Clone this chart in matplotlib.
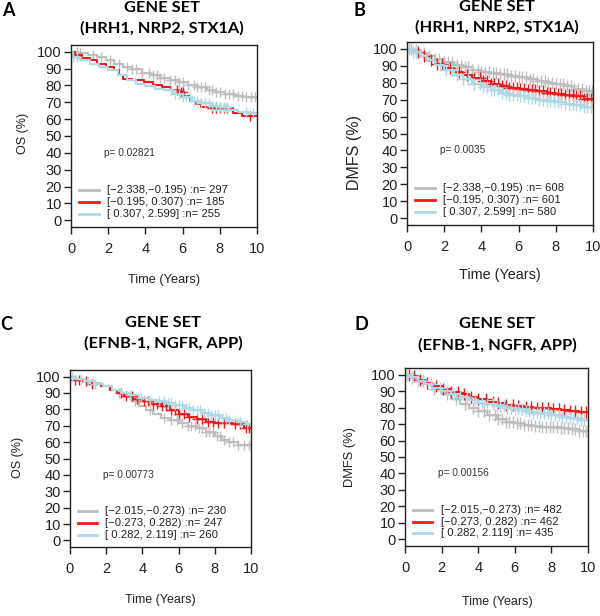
import numpy as np
import matplotlib
matplotlib.use("Agg")
import matplotlib.pyplot as plt

plt.rcParams['font.family'] = ['Liberation Sans', 'DejaVu Sans']

# colours of the three expression groups (low, mid, high)
grp_colors = ['#bebebe', '#ec1c1c', '#add8e6']

# ---------------- panel A : OS, HRH1/NRP2/STX1A ----------------
A_grey_t = [0, 0.4, 0.9, 1.4, 1.9, 2.3, 2.8, 3.3, 3.8, 4.3, 4.8, 5.3, 5.8, 6.3, 6.8, 7.3, 7.8, 8.3, 8.8, 9.3]
A_grey_s = [100, 99, 98, 97, 95, 93, 91, 89.5, 87.5, 86, 84.5, 83, 82, 80.5, 79, 77.5, 76, 75, 74, 73]
A_red_t = [0, 0.2, 0.6, 1.0, 1.4, 1.9, 2.3, 2.6, 2.8, 3.3, 3.9, 4.4, 4.9, 5.4, 5.8, 6.1, 6.4, 6.7, 7.0, 7.4, 8.7, 9.2]
A_red_s = [100, 98, 96.5, 95, 93, 91, 89, 86, 84, 83, 82, 80.5, 79, 77.5, 76, 74, 71, 69, 67, 66.5, 63.5, 62]
A_blue_t = [0, 0.1, 0.5, 1.0, 1.5, 2.0, 2.5, 3.0, 3.5, 4.0, 4.5, 5.0, 5.5, 6.0, 6.5, 7.0, 7.5, 8.0, 8.5, 9.0, 9.5]
A_blue_s = [100, 97, 95, 93, 91, 89, 86, 83.5, 81, 79.5, 78, 77, 75, 73, 71, 69.5, 68, 67, 65.5, 64.5, 63.5]
A_grey_c = [0.3, 0.5, 1.2, 1.6, 2.1, 2.6, 3.0, 3.3, 3.5, 3.8, 4.2, 4.4, 4.6, 4.8, 5.0, 5.3, 5.6, 5.8,
            6.0, 6.3, 6.6, 6.8, 7.0, 7.2, 7.4, 7.6, 7.8, 8.0, 8.3, 8.5, 8.7, 9.0, 9.2, 9.4, 9.7, 9.9]
A_red_c = [5.7, 5.9, 6.0, 7.6, 7.8, 8.0, 8.2, 8.4, 9.6]
A_blue_c = [0.1, 0.3, 5.4, 5.6, 5.8, 6.0, 6.2, 6.4, 6.6, 6.8, 7.0, 7.2, 7.4, 7.6, 7.8, 8.0, 8.2, 8.4, 9.4, 9.8]
A_legend = ['[\u22122.338,\u22120.195) :n= 297', '[\u22120.195, 0.307) :n= 185', '[ 0.307, 2.599] :n= 255']
A_p = 'p= 0.02821'

# ---------------- panel B : DMFS, HRH1/NRP2/STX1A ----------------
B_t = [0, 0.3, 0.7, 1.1, 1.5, 2.0, 2.5, 3.0, 3.5, 4.0, 4.5, 5.0, 5.5, 6.0, 6.5, 7.0, 7.5, 8.0, 8.5, 9.0, 9.5]
B_grey_s = [100, 99, 97.5, 95.5, 94, 92, 90.5, 89, 87.5, 86.5, 85.5, 85, 84, 83.5, 82, 81, 80, 79.5, 78, 76.5, 75]
B_red_s = [100, 98, 96, 93.5, 91, 88.5, 86.5, 84.5, 82.5, 81, 79.5, 78, 77, 76.5, 75.5, 75, 74, 73.5, 72.5, 72, 70.5]
B_blue_s = [100, 98, 96, 93.5, 90.5, 87.5, 84.5, 82, 79.5, 77.5, 75.5, 74, 72.5, 72, 71, 70, 69, 68.5, 67.5, 67, 65.5]
B_grey_c = [0.2, 0.5, 0.9, 1.2, 1.5, 1.7, 2.0, 2.2, 2.4, 2.7, 2.9, 3.1, 3.3, 3.5, 3.8, 4.0, 4.2, 4.4, 4.6, 4.8,
            5.0, 5.2, 5.4, 5.6, 5.8, 6.0, 6.2, 6.4, 6.6, 6.8, 7.0, 7.2, 7.4, 7.6, 7.8, 8.0, 8.2, 8.4,
            8.6, 8.8, 9.0, 9.2, 9.4, 9.6, 9.8, 9.95]
B_red_c = [0.6, 0.9, 1.3, 1.6, 1.9, 2.3, 2.8, 3.2, 3.6, 3.9, 4.1, 4.3, 4.5, 4.7, 4.9, 5.1, 5.3, 5.5, 5.7,
           5.9, 6.1, 6.3, 6.5, 6.7, 6.9, 7.1, 7.3, 7.5, 7.7, 7.9, 8.1, 8.3, 8.5, 8.7, 8.9, 9.1, 9.3,
           9.5, 9.7, 9.9]
B_blue_c = [0.1, 0.3, 0.5, 1.8, 2.1, 2.4, 2.7, 3.0, 3.3, 3.6, 3.9, 4.1, 4.3, 4.5, 4.7, 4.9, 5.1, 5.3, 5.5,
            5.7, 5.9, 6.1, 6.3, 6.5, 6.7, 6.9, 7.1, 7.3, 7.5, 7.7, 7.9, 8.1, 8.3, 8.5, 8.7, 8.9, 9.1,
            9.3, 9.5, 9.7, 9.9]
B_legend = ['[\u22122.338,\u22120.195) :n= 608', '[\u22120.195, 0.307) :n= 601', '[ 0.307, 2.599] :n= 580']
B_p = 'p= 0.0035'

# ---------------- panel C : OS, EFNB-1/NGFR/APP ----------------
C_grey_t = [0, 0.3, 0.7, 1.2, 1.7, 2.2, 2.6, 3.0, 3.4, 3.8, 4.2, 4.6, 5.0, 5.5, 6.0, 6.5, 7.0, 7.5, 8.0, 8.4, 8.8, 9.3]
C_grey_s = [100, 98.5, 97, 96, 94, 92, 90, 87.5, 85, 82, 79.5, 77, 75, 73.5, 71.5, 70, 68.5, 66, 63.5, 61.5, 60, 58.5]
C_red_t = [0, 0.3, 0.7, 1.2, 1.7, 2.2, 2.6, 3.0, 3.5, 4.0, 4.5, 5.0, 5.5, 6.0, 6.5, 7.0, 7.5, 8.0, 9.0, 9.6]
C_red_s = [100, 98, 97, 95.5, 94, 92, 90, 88, 86.5, 85, 83.5, 82, 79.5, 77, 75.5, 74, 72.5, 71.5, 71, 68.5]
C_blue_t = [0, 0.3, 0.8, 1.3, 1.8, 2.3, 2.8, 3.3, 3.8, 4.3, 4.8, 5.3, 5.8, 6.3, 6.8, 7.3, 7.8, 8.3, 8.8, 9.3, 9.8]
C_blue_s = [100, 98.5, 97, 95.5, 94, 92, 90, 88.5, 87, 86, 85, 84, 82.5, 81, 79.5, 78, 76.5, 75, 73.5, 72, 71]
C_grey_c = [2.7, 3.6, 4.4, 5.2, 5.6, 5.9, 6.2, 6.5, 6.7, 6.9, 7.1, 7.3, 7.5, 7.7, 7.9, 8.1, 8.3, 8.5, 8.8, 9.0, 9.3, 9.6, 9.9]
C_red_c = [0.3, 0.5, 0.9, 1.2, 2.8, 3.1, 3.4, 3.7, 4.1, 4.3, 4.6, 4.8, 5.1, 5.3, 5.6, 5.8, 6.0, 6.3, 6.6,
           7.0, 7.3, 7.6, 7.9, 8.2, 8.5, 9.1, 9.4, 9.7, 9.9]
C_blue_c = [0.1, 0.6, 1.0, 1.4, 3.3, 3.9, 4.4, 4.9, 5.2, 5.4, 5.6, 5.8, 6.0, 6.2, 6.4, 6.6, 6.8, 7.0, 7.2,
            7.4, 7.6, 7.8, 8.0, 8.2, 8.4, 8.6, 8.8, 9.4, 9.8]
C_legend = ['[\u22122.015,\u22120.273) :n= 230', '[\u22120.273, 0.282) :n= 247', '[ 0.282, 2.119] :n= 260']
C_p = 'p= 0.00773'

# ---------------- panel D : DMFS, EFNB-1/NGFR/APP ----------------
D_t = [0, 0.3, 0.7, 1.1, 1.5, 2.0, 2.5, 3.0, 3.5, 4.0, 4.5, 5.0, 5.5, 6.0, 6.5, 7.0, 7.5, 8.0, 8.5, 9.0, 9.5]
D_grey_s = [100, 98, 96, 94, 91.5, 88, 85, 82, 80, 78, 75.5, 73, 71.5, 70.5, 69.5, 69, 68.5, 68, 67.5, 67, 66]
D_red_s = [100, 99, 97, 95, 93, 91, 89.5, 88, 86.5, 85, 83.5, 82.5, 81.5, 81, 80.5, 80, 79.5, 79, 78.5, 78, 77.5]
D_blue_s = [100, 98.5, 96, 94, 92, 90, 88, 86.5, 84.5, 83, 82, 81, 80, 79, 78, 77, 76.5, 75.5, 74.5, 73.5, 72.5]
D_grey_c = [0.4, 1.0, 1.6, 2.3, 2.8, 3.3, 3.7, 4.0, 4.3, 4.6, 4.9, 5.1, 5.3, 5.5, 5.7, 5.9, 6.1, 6.3, 6.5,
            6.7, 6.9, 7.1, 7.3, 7.5, 7.7, 7.9, 8.1, 8.3, 8.5, 8.7, 8.9, 9.1, 9.3, 9.5, 9.7, 9.9]
D_red_c = [0.2, 0.5, 0.8, 1.2, 1.7, 2.1, 2.5, 2.9, 3.2, 3.6, 4.0, 4.4, 4.8, 5.1, 5.5, 5.9, 6.2, 6.6, 6.9,
           7.2, 7.5, 7.8, 8.1, 8.4, 8.7, 9.0, 9.3, 9.6, 9.9]
D_blue_c = [0.1, 0.4, 0.7, 1.0, 1.4, 1.9, 2.3, 2.7, 3.0, 3.4, 3.8, 4.2, 4.5, 4.8, 5.0, 5.2, 5.4, 5.6, 5.8,
            6.0, 6.2, 6.4, 6.6, 6.8, 7.0, 7.2, 7.4, 7.6, 7.8, 8.0, 8.2, 8.4, 8.6, 8.8, 9.0, 9.2, 9.4,
            9.6, 9.8]
D_legend = ['[\u22122.015,\u22120.273) :n= 482', '[\u22120.273, 0.282) :n= 462', '[ 0.282, 2.119] :n= 435']
D_p = 'p= 0.00156'

W, H = 600, 616
fig = plt.figure(figsize=(W / 100, H / 100), dpi=100)


def fx(px):
    return px / W


def fy(py):
    return 1 - py / H


def step_at(times, surv, t):
    idx = np.searchsorted(times, t, side='right') - 1
    return np.asarray(surv)[idx]


def km_panel(box, curves, legend, ptext, ms=7):
    l, t, r, b = box
    ax = fig.add_axes([fx(l), fy(b), (r - l) / W, (b - t) / H])
    for (times, surv, cens), col in zip(curves, grp_colors):
        ax.step(list(times) + [10], list(surv) + [surv[-1]], where='post', color=col, lw=1.5)
        ax.plot(cens, step_at(times, surv, cens), ls='none', marker='+', ms=ms, mew=1.0, color=col)
    ax.set_xlim(0, 10)
    ax.set_ylim(-4, 104)
    ax.set_xticks(range(0, 11, 2))
    ax.set_yticks(range(0, 101, 10))
    ax.tick_params(axis='y', length=5, width=1, pad=1.5, labelsize=10.5, colors='#222222')
    ax.tick_params(axis='x', length=5, width=1, pad=6, labelsize=10.5, colors='#222222')
    for s in ax.spines.values():
        s.set_color('#222222')
        s.set_linewidth(1)
    # legend drawn like the R plot: short lines and labels
    for i, (lab, col) in enumerate(zip(legend, grp_colors)):
        yy = 17.8 - 7.1 * i
        ax.plot([0.45, 1.5], [yy, yy], color=col, lw=2)
        ax.text(1.95, yy, lab, fontsize=8.1, va='center', ha='left', color='#222222')
    ax.text(1.8, 40, ptext, fontsize=7.3, va='center', ha='left', color='#333333')
    return ax


km_panel((71, 45, 257, 227),
         [(A_grey_t, A_grey_s, A_grey_c), (A_red_t, A_red_s, A_red_c), (A_blue_t, A_blue_s, A_blue_c)],
         A_legend, A_p)
km_panel((407, 42, 593, 225),
         [(B_t, B_grey_s, B_grey_c), (B_t, B_red_s, B_red_c), (B_t, B_blue_s, B_blue_c)],
         B_legend, B_p, ms=8)
km_panel((70, 370, 251, 547),
         [(C_grey_t, C_grey_s, C_grey_c), (C_red_t, C_red_s, C_red_c), (C_blue_t, C_blue_s, C_blue_c)],
         C_legend, C_p)
km_panel((405, 368, 588, 546),
         [(D_t, D_grey_s, D_grey_c), (D_t, D_red_s, D_red_c), (D_t, D_blue_s, D_blue_c)],
         D_legend, D_p, ms=8)

# titles, panel letters and axis labels
title_font = dict(family=['Lato', 'DejaVu Sans'], fontweight='bold', fontsize=11.8, ha='center', va='center')
fig.text(fx(162), fy(8), 'GENE SET', **title_font)
fig.text(fx(162), fy(28), '(HRH1, NRP2, STX1A)', **title_font)
fig.text(fx(497), fy(7), 'GENE SET', **title_font)
fig.text(fx(497), fy(27), '(HRH1, NRP2, STX1A)', **title_font)
fig.text(fx(163), fy(323), 'GENE SET', **title_font)
fig.text(fx(163), fy(343), '(EFNB-1, NGFR, APP)', **title_font)
fig.text(fx(497), fy(324), 'GENE SET', **title_font)
fig.text(fx(497), fy(345), '(EFNB-1, NGFR, APP)', **title_font)

letter_font = dict(family=['Lato', 'DejaVu Sans'], fontweight='bold', fontsize=13, ha='center', va='center')
fig.text(fx(8), fy(11), 'A', **letter_font)
fig.text(fx(359), fy(11), 'B', **letter_font)
fig.text(fx(6), fy(325), 'C', **letter_font)
fig.text(fx(361), fy(325), 'D', **letter_font)

fig.text(fx(23), fy(133), 'OS (%)', rotation=90, fontsize=9, ha='center', va='center', color='#222222')
fig.text(fx(355), fy(152), 'DMFS (%)', rotation=90, fontsize=11.5, ha='center', va='center', color='#222222')
fig.text(fx(18), fy(457), 'OS (%)', rotation=90, fontsize=9, ha='center', va='center', color='#222222')
fig.text(fx(350), fy(457), 'DMFS (%)', rotation=90, fontsize=9.3, ha='center', va='center', color='#222222')

fig.text(fx(164), fy(280), 'Time (Years)', fontsize=9.2, ha='center', va='center', color='#222222')
fig.text(fx(500), fy(275), 'Time (Years)', fontsize=10.4, ha='center', va='center', color='#222222')
fig.text(fx(160), fy(600), 'Time (Years)', fontsize=9, ha='center', va='center', color='#222222')
fig.text(fx(497), fy(602), 'Time (Years)', fontsize=9, ha='center', va='center', color='#222222')

fig.savefig('out.png', dpi=100)
